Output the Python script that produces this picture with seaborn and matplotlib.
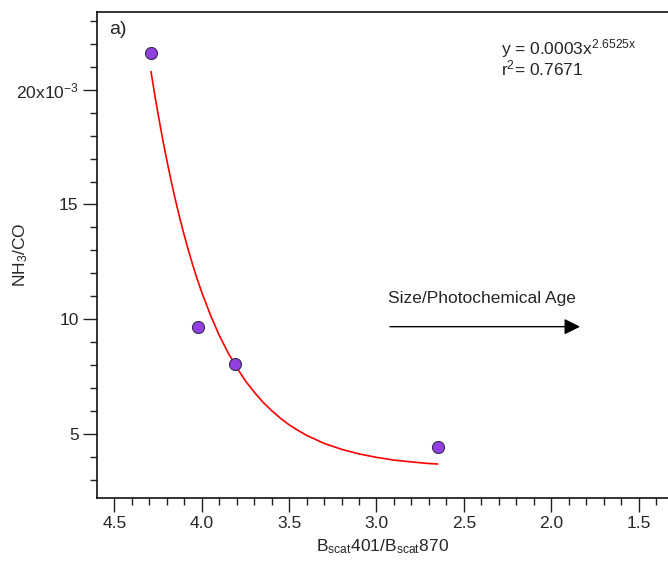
import matplotlib
matplotlib.use('Agg')
import matplotlib.pyplot as plt
import seaborn as sns
from matplotlib.ticker import FixedLocator, MultipleLocator

# measured points (NH3/CO in units of 1e-3)
ratio = [4.29, 4.02, 3.81, 2.65]
nh3_co = [21.6, 9.66, 8.02, 4.42]

# fitted curve
fit_x = [4.29, 4.27, 4.25, 4.225, 4.2, 4.175, 4.15, 4.125, 4.1, 4.075, 4.05,
         4.025, 4.0, 3.95, 3.9, 3.85, 3.8, 3.75, 3.7, 3.65, 3.6, 3.55, 3.5,
         3.45, 3.4, 3.3, 3.2, 3.1, 3.0, 2.9, 2.8, 2.7, 2.65]
fit_y = [20.8, 19.86, 18.97, 17.92, 16.95, 16.04, 15.19, 14.4, 13.66, 12.98,
         12.33, 11.74, 11.18, 10.18, 9.30, 8.55, 7.89, 7.31, 6.82, 6.38, 6.01,
         5.68, 5.39, 5.15, 4.93, 4.58, 4.32, 4.12, 3.97, 3.85, 3.77, 3.70, 3.68]

y_ticks = [5, 10, 15, 20]
y_tick_labels = ['5', '10', '15', r'20x10$^{\mathregular{-3}}$']

sns.set_style('ticks')
plt.rcParams['font.family'] = ['Liberation Sans', 'DejaVu Sans']
plt.rcParams['mathtext.fontset'] = 'custom'
plt.rcParams['mathtext.rm'] = 'Liberation Sans'
plt.rcParams['mathtext.it'] = 'Liberation Sans:italic'
plt.rcParams['font.size'] = 12.5

fig = plt.figure(figsize=(6.68, 5.68), dpi=100)
ax = fig.add_axes([0.1457, 0.1238, 0.8543, 0.8556])

sns.lineplot(x=fit_x, y=fit_y, sort=False, color='#ff0000', lw=1.2, ax=ax)
sns.scatterplot(x=ratio, y=nh3_co, color='#9340e0', edgecolor='#3a2a55',
                linewidth=0.8, s=75, zorder=3, ax=ax)

ax.set_xlim(4.597, 1.332)
ax.set_ylim(2.21, 23.41)

ax.xaxis.set_major_locator(MultipleLocator(0.5))
ax.xaxis.set_minor_locator(MultipleLocator(0.1))
ax.yaxis.set_major_locator(FixedLocator(y_ticks))
ax.set_yticklabels(y_tick_labels)
ax.yaxis.set_minor_locator(MultipleLocator(1))

ax.tick_params(which='major', length=10, width=1.0, color='#222222', labelsize=12.5)
ax.tick_params(which='minor', length=5, width=1.0, color='#222222')

for side in ['left', 'bottom', 'top']:
    ax.spines[side].set_linewidth(1.2)
    ax.spines[side].set_color('#111111')
ax.spines['right'].set_visible(False)

ax.set_xlabel(r'B$_{\mathregular{scat}}$401/B$_{\mathregular{scat}}$870', fontsize=12.5)
ax.set_ylabel(r'NH$_{\mathregular{3}}$/CO', fontsize=12.5)
ax.yaxis.set_label_coords(-0.118, 0.5)

# panel label and fit text
ax.text(0.02, 0.98, 'a)', transform=ax.transAxes, ha='left', va='top', fontsize=14)
ax.text(0.708, 0.925, r'y = 0.0003x$^{\mathregular{2.6525x}}$', transform=ax.transAxes,
        ha='left', va='center', fontsize=12.5)
ax.text(0.708, 0.883, r'r$^{\mathregular{2}}$= 0.7671', transform=ax.transAxes,
        ha='left', va='center', fontsize=12.5)

# direction arrow
ax.annotate('', xy=(1.835, 9.67), xytext=(2.923, 9.67),
            arrowprops=dict(arrowstyle='-|>', color='black', lw=1.0,
                            mutation_scale=24, shrinkA=0, shrinkB=0))
ax.text(2.934, 10.9, 'Size/Photochemical Age', ha='left', va='center', fontsize=12.5)

fig.savefig('out.png', dpi=100)
